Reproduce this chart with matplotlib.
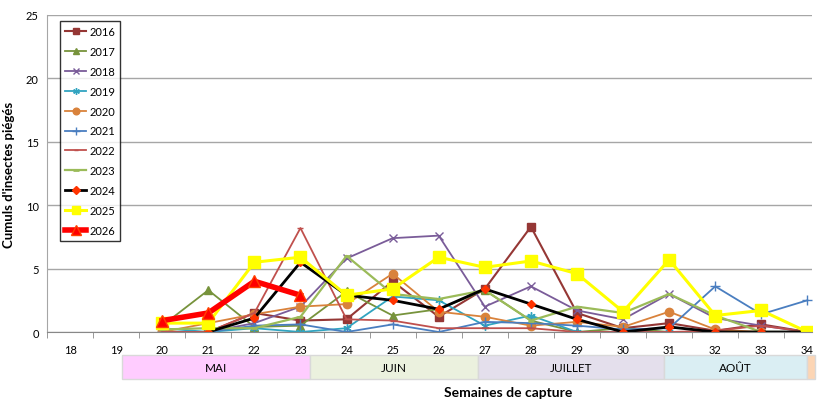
import matplotlib.pyplot as plt
from matplotlib.patches import Rectangle
import matplotlib.transforms as mtransforms

plt.rcParams['font.family'] = ['Lato', 'DejaVu Sans']

weeks = list(range(20, 35))
y2016 = [0, 0, 1.5, 0.9, 1.0, 4.0, 1.2, 3.4, 8.3, 1.5, 0.3, 0.7, 0.1, 0.6, 0]
y2017 = [0.5, 3.3, 0.4, 0.5, 3.2, 1.3, 1.8, 3.3, 0.9, 0, 0.3, 0, 0, 0, 0]
y2018 = [0, 0, 0.7, 2.0, 5.8, 7.4, 7.6, 2.0, 3.6, 1.7, 1.0, 3.0, 1.1, 0.5, 0]
y2019 = [0.3, 0, 0.3, 0, 0.3, 2.8, 2.5, 0.5, 1.3, 0, 0, 0, 0, 0, 0]
y2020 = [0, 0.7, 1.4, 2.0, 2.2, 4.6, 1.6, 1.2, 0.5, 0.8, 0.4, 1.6, 0.2, 0, 0]
y2021 = [0, 0, 0.5, 0.6, 0, 0.6, 0, 0.8, 0.7, 0.5, 0.2, 0.3, 3.6, 1.4, 2.5]
y2022 = [0, 0, 1.5, 8.2, 1.0, 0.9, 0.3, 0.3, 0.3, 0, 0, 0, 0.1, 0.5, 0]
y2023 = [0.2, 0.3, 0.3, 1.2, 6.0, 3.0, 2.6, 3.3, 0.9, 2.0, 1.5, 3.0, 1.3, 0, 0]
weeks2024 = list(range(21, 35))
y2024 = [0, 1.1, 5.5, 2.9, 2.5, 1.8, 3.4, 2.2, 1.0, 0, 0.4, 0, 0, 0]
y2025 = [0.7, 0.7, 5.5, 5.9, 2.9, 3.4, 5.9, 5.1, 5.6, 4.6, 1.6, 5.7, 1.3, 1.7, 0]
weeks2026 = [20, 21, 22, 23]
y2026 = [0.9, 1.5, 4.0, 2.9]

months = ['MAI', 'JUIN', 'JUILLET', 'AOÛT', '']
month_start = [19.13, 23.2, 26.85, 30.88, 34.0]
month_end = [23.2, 26.85, 30.88, 34.0, 34.17]
month_colors = ['#FFCCFF', '#EBF1DE', '#E4DFEC', '#DAEEF3', '#FCD5B4']

fig = plt.figure(figsize=(8.2, 4.06), dpi=100)
ax = fig.add_axes([47/820, 1-333/406, (812-47)/820, (333-16)/406])

ax.plot(weeks, y2016, color='#953735', marker='s', ms=6, lw=1.5, label='2016')
ax.plot(weeks, y2017, color='#77933C', marker='^', ms=6, lw=1.3, label='2017')
ax.plot(weeks, y2018, color='#7A5C99', marker='x', ms=6, lw=1.3, label='2018')
ax.plot(weeks, y2019, color='#31A4C0', marker=(6, 2, 0), ms=6, lw=1.3, label='2019')
ax.plot(weeks, y2020, color='#D9823B', marker='o', ms=6, lw=1.3, label='2020')
ax.plot(weeks, y2021, color='#4A7EC0', marker='+', ms=7, lw=1.3, label='2021')
ax.plot(weeks, y2022, color='#C0504D', marker='_', ms=4, lw=1.3, label='2022')
ax.plot(weeks, y2023, color='#9BBB59', marker='_', ms=5, mew=2, lw=1.6, label='2023')
ax.plot(weeks2024, y2024, color='black', marker='D', ms=4.5, mfc='#FF3300', mec='#FF3300', lw=2, label='2024')
ax.plot(weeks, y2025, color='#FFFF00', marker='s', ms=8, lw=2.2, label='2025')
ax.plot(weeks2026, y2026, color='#FF0000', marker='^', ms=9, mec='#FF4000', lw=4, label='2026')

ax.set_xlim(17.5, 34.1)
ax.set_ylim(0, 25)
ax.set_yticks([0, 5, 10, 15, 20, 25])
ax.set_xticks(range(18, 35))
ax.set_xticks([x + 0.5 for x in range(17, 34)], minor=True)
ax.tick_params(axis='x', which='major', length=0, pad=9, labelsize=8)
ax.tick_params(axis='x', which='minor', length=4, color='#888888', direction='out')
ax.tick_params(axis='y', length=0, labelsize=8, pad=6)
ax.yaxis.grid(True, color='#A6A6A6', lw=1)
ax.set_axisbelow(True)
for s in ['top', 'right']:
    ax.spines[s].set_visible(False)
ax.spines['left'].set_color('#A6A6A6')
ax.spines['bottom'].set_color('#888888')
ax.set_ylabel("Cumuls d'insectes piégés", fontsize=9.5, fontweight='bold', labelpad=8)

# bandes des mois sous l'axe
trans = mtransforms.blended_transform_factory(ax.transData, ax.transAxes)
y0 = (333 - 380) / 317
h = (380 - 356) / 317
for name, a, b, c in zip(months, month_start, month_end, month_colors):
    ax.add_patch(Rectangle((a, y0), b - a, h, transform=trans, facecolor=c,
                           edgecolor='#D9D9D9', lw=1, clip_on=False))
    if name:
        ax.text((a + b) / 2, y0 + h / 2, name, transform=trans, ha='center',
                va='center', fontsize=8.5)

fig.text(508/820, 1-393/406, 'Semaines de capture', ha='center', va='center',
         fontsize=10, fontweight='bold')

leg = ax.legend(loc='upper left', bbox_to_anchor=(13/765, (333-22)/317), fontsize=8,
                frameon=True, fancybox=False, edgecolor='black', handlelength=1.9,
                labelspacing=0.8, borderpad=0.45, handletextpad=0.3,
                borderaxespad=0, markerscale=0.8)
leg.get_frame().set_linewidth(1)

fig.savefig('out.png', dpi=100)
